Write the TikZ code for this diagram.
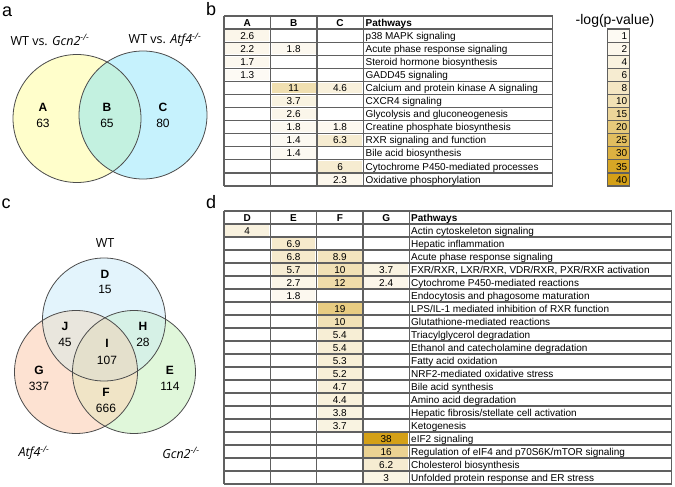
\documentclass[tikz,border=0pt]{standalone}
\usepackage{fontspec}
\setmainfont{Liberation Sans}
\newfontfamily\titlefont{Open Sans}
\usepackage{tikz}
\usetikzlibrary{positioning, calc}
\definecolor{pgold}{HTML}{D4A017}
\definecolor{gridgray}{HTML}{606060}
\definecolor{vennyellow}{HTML}{FFFECB}
\definecolor{venncyan}{HTML}{C6F2FD}
\definecolor{vennmint}{HTML}{C3F1E0}
\definecolor{wtblue}{HTML}{E3F4FC}
\definecolor{atfpeach}{HTML}{FDE2D2}
\definecolor{gcngreen}{HTML}{E0F7DA}
\definecolor{overJ}{HTML}{E9E6DD}
\definecolor{overH}{HTML}{D6F1E6}
\definecolor{overF}{HTML}{F0E4C6}
\definecolor{overI}{HTML}{E4E0CC}

\begin{document}
\begin{tikzpicture}[
    x=1pt, y=-1pt,
    panel/.style={
        font=\fontsize{18}{18}\selectfont,
        anchor=base west,
        inner sep=0pt
    },
    venntitle/.style={
        font=\titlefont\fontsize{12.5}{14}\selectfont,
        inner sep=0pt
    },
    setlabel/.style={
        font=\bfseries\fontsize{12}{12}\selectfont,
        inner sep=0pt
    },
    setcount/.style={
        font=\fontsize{12}{12}\selectfont,
        inner sep=0pt
    },
    ring/.style={
        draw=black!70,
        line width=0.8pt
    },
    cell/.style={
        font=\fontsize{10}{11}\selectfont,
        anchor=base,
        inner sep=0pt
    },
    head/.style={
        cell,
        font=\bfseries\fontsize{10}{11}\selectfont
    },
    pathway/.style={
        font=\fontsize{10}{11}\selectfont,
        anchor=base west,
        inner sep=0pt
    },
    gridline/.style={
        draw=gridgray,
        line width=1.2pt
    }
]
\useasboundingbox (0,0) rectangle (675,487);

% Panel letters
\node[panel] (pa) at (2,16.5) {a};
\node[panel] (pb) at (206,15.7) {b};
\node[panel] (pc) at (1.5,208.3) {c};
\node[panel] (pd) at (206,208.5) {d};

% Venn a (two sets)
\coordinate (ga) at (77,118.5);
\coordinate (aa) at (143,115);
\fill[vennyellow] (ga) circle[radius=64pt];
\fill[venncyan] (aa) circle[radius=64pt];
\begin{scope}
    \clip (ga) circle[radius=64pt];
    \fill[vennmint] (aa) circle[radius=64pt];
\end{scope}
\draw[ring] (ga) circle[radius=64pt];
\draw[ring] (aa) circle[radius=64pt];

\node[venntitle] (ta1) at (50,40) {WT vs. \textit{Gcn2}\textsuperscript{\textit{-/-}}};
\node[venntitle] (ta2) at (165,40) {WT vs. \textit{Atf4}\textsuperscript{\textit{-/-}}};
\node[setlabel] (sA) at (43,107) {A};
\node[setcount] (nA) at (43,123) {63};
\node[setlabel] (sB) at (107,107) {B};
\node[setcount] (nB) at (107,123) {65};
\node[setlabel] (sC) at (163,107) {C};
\node[setcount] (nC) at (163,123) {80};

% Venn c (three sets)
\coordinate (wt) at (104,319.5);
\coordinate (atf) at (76,372);
\coordinate (gcn) at (134,372);
\fill[wtblue] (wt) circle[radius=61.5pt];
\fill[atfpeach] (atf) circle[radius=61.5pt];
\fill[gcngreen] (gcn) circle[radius=61.5pt];
\begin{scope}
    \clip (atf) circle[radius=61.5pt];
    \fill[overF] (gcn) circle[radius=61.5pt];
\end{scope}
\begin{scope}
    \clip (wt) circle[radius=61.5pt];
    \fill[overJ] (atf) circle[radius=61.5pt];
    \fill[overH] (gcn) circle[radius=61.5pt];
    \clip (atf) circle[radius=61.5pt];
    \fill[overI] (gcn) circle[radius=61.5pt];
\end{scope}
\draw[ring] (wt) circle[radius=61.5pt];
\draw[ring] (atf) circle[radius=61.5pt];
\draw[ring] (gcn) circle[radius=61.5pt];

\node[venntitle] (tWT) at (105,243) {WT};
\node[venntitle] (tAtf) at (34,453) {\textit{Atf4}\textsuperscript{\textit{-/-}}};
\node[venntitle] (tGcn) at (181,453) {\textit{Gcn2}\textsuperscript{\textit{-/-}}};
\node[setlabel] (sD) at (105,274) {D};
\node[setcount] (nD) at (105,289.5) {15};
\node[setlabel] (sJ) at (65,326) {J};
\node[setcount] (nJ) at (65,342) {45};
\node[setlabel] (sH) at (143,326) {H};
\node[setcount] (nH) at (143,342) {28};
\node[setlabel] (sI) at (107,343.5) {I};
\node[setcount] (nI) at (107,360) {107};
\node[setlabel] (sG) at (39,370) {G};
\node[setcount] (nG) at (39,386) {337};
\node[setlabel] (sE) at (170,370) {E};
\node[setcount] (nE) at (170,386) {114};
\node[setlabel] (sF) at (106,392) {F};
\node[setcount] (nF) at (106,408) {666};

% Table b: shaded cells (column/row/value)
\foreach \c/\r/\v in {1/1/2.6, 1/2/2.2, 2/2/1.8, 1/3/1.7, 1/4/1.3, 2/5/11, 3/5/4.6,
    2/6/3.7, 2/7/2.6, 2/8/1.8, 3/8/1.8, 2/9/1.4, 3/9/6.3, 2/10/1.4, 3/11/6, 3/12/2.3} {
    \pgfmathtruncatemacro\pct{\v<10 ? 3*\v+2 : min(100,2.5*\v+7)}
    \fill[pgold!\pct!white] ({224+46.43*(\c-1)+1.3},{16+13.08*\r+1.3}) rectangle ++(43.8,10.5);
    \node[cell] (b-\c-\r) at ({224+46.43*(\c-0.5)},{16+13.08*(\r+0.5)+3.6}) {\v};
}
\foreach \r in {0,...,13}
    \draw[gridline] (224,{16+13.08*\r}) -- (552.7,{16+13.08*\r});
\foreach \cx in {224,270.4,316.9,363.3,552.7}
    \draw[gridline] (\cx,16) -- (\cx,186);
\foreach \h [count=\c] in {A,B,C}
    \node[head] (bh-\c) at ({224+46.43*(\c-0.5)},26.2) {\h};
\node[head, anchor=base west] (bh-p) at (365.5,26.2) {Pathways};
\foreach \pw [count=\r] in {p38 MAPK signaling, Acute phase response signaling,
    Steroid hormone biosynthesis, GADD45 signaling, Calcium and protein kinase A signaling,
    CXCR4 signaling, Glycolysis and gluconeogenesis, Creatine phosphate biosynthesis,
    RXR signaling and function, Bile acid biosynthesis, Cytochrome P450-mediated processes,
    Oxidative phosphorylation}
    \node[pathway] (bp-\r) at (365.5,{16+13.08*(\r+0.5)+3.6}) {\pw};

% Legend
\node[font=\fontsize{14}{14}\selectfont, anchor=base, inner sep=0pt] (legtitle) at (615,25) {-log(p-value)};
\foreach \v [count=\r] in {1,2,4,6,8,10,15,20,25,30,35,40} {
    \pgfmathtruncatemacro\pct{\v<10 ? 3*\v+2 : min(100,2.5*\v+7)}
    \draw[gridline, fill=pgold!\pct!white] (607.3,{16+13.08*\r}) rectangle (629.3,{16+13.08*(\r+1)});
    \node[cell, anchor=base east] (leg-\r) at (627.5,{16+13.08*(\r+0.5)+3.6}) {\v};
}

% Table d: shaded cells (column/row/value)
\foreach \c/\r/\v in {1/1/4, 2/2/6.9, 2/3/6.8, 3/3/8.9, 2/4/5.7, 3/4/10, 4/4/3.7,
    2/5/2.7, 3/5/12, 4/5/2.4, 2/6/1.8, 3/7/19, 3/8/10, 3/9/5.4, 3/10/5.4, 3/11/5.3,
    3/12/5.2, 3/13/4.7, 3/14/4.4, 3/15/3.8, 3/16/3.7, 4/17/38, 4/18/16, 4/19/6.2, 4/20/3} {
    \pgfmathtruncatemacro\pct{\v<10 ? 3*\v+2 : min(100,2.5*\v+7)}
    \fill[pgold!\pct!white] ({224+46.33*(\c-1)+1.3},{211+13*\r+1.3}) rectangle ++(43.7,10.4);
    \node[cell] (d-\c-\r) at ({224+46.33*(\c-0.5)},{211+13*(\r+0.5)+3.6}) {\v};
}
\foreach \r in {0,...,21}
    \draw[gridline] (224,{211+13*\r}) -- (671.7,{211+13*\r});
\foreach \cx in {224,270.3,316.7,363,409.3,671.7}
    \draw[gridline] (\cx,211) -- (\cx,484);
\foreach \h [count=\c] in {D,E,F,G}
    \node[head] (dh-\c) at ({224+46.33*(\c-0.5)},221.1) {\h};
\node[head, anchor=base west] (dh-p) at (411,221.1) {Pathways};
\foreach \pw [count=\r] in {Actin cytoskeleton signaling, Hepatic inflammation,
    Acute phase response signaling, {FXR/RXR, LXR/RXR, VDR/RXR, PXR/RXR activation},
    Cytochrome P450-mediated reactions, Endocytosis and phagosome maturation,
    LPS/IL-1 mediated inhibition of RXR function, Glutathione-mediated reactions,
    Triacylglycerol degradation, Ethanol and catecholamine degradation,
    Fatty acid oxidation, NRF2-mediated oxidative stress, Bile acid synthesis,
    Amino acid degradation, Hepatic fibrosis/stellate cell activation, Ketogenesis,
    eIF2 signaling, Regulation of eIF4 and p70S6K/mTOR signaling,
    Cholesterol biosynthesis, Unfolded protein response and ER stress}
    \node[pathway] (dp-\r) at (411,{211+13*(\r+0.5)+3.6}) {\pw};

\end{tikzpicture}
\end{document}
